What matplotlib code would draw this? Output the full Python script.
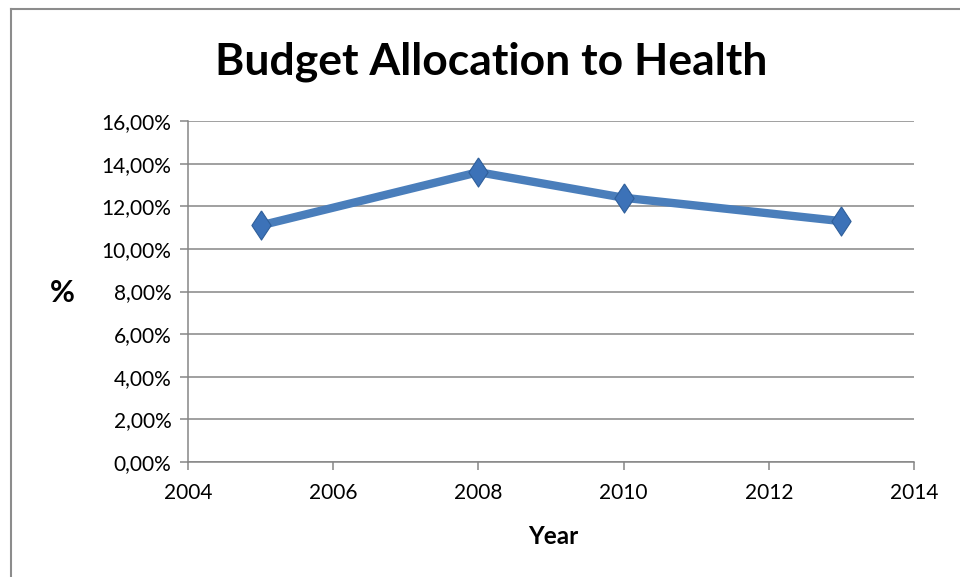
import numpy as np
import matplotlib
matplotlib.use('Agg')
import matplotlib.pyplot as plt
from matplotlib.lines import Line2D
from matplotlib.ticker import FuncFormatter

plt.rcParams['font.family'] = ['Lato', 'DejaVu Sans']

# ==================== data ====================
years = [2005, 2008, 2010, 2013]
budget_pct = [11.1, 13.6, 12.4, 11.3]
title = 'Budget Allocation to Health'
x_label = 'Year'
y_label = '%'

# ==================== plot ====================
fig = plt.figure(figsize=(9.6, 5.77), dpi=100)
ax = fig.add_axes([188 / 960, 1 - 462 / 577, (914 - 188) / 960, (462 - 121) / 577])

# tall diamond marker like Excel
diamond = [(0, 1), (0.66, 0), (0, -1), (-0.66, 0), (0, 1)]
ax.plot(years, budget_pct, color='#4A7EBB', linewidth=6, solid_capstyle='round',
        marker=diamond, markersize=21, markerfacecolor='#3C72B8',
        markeredgecolor='#2F5F9A', markeredgewidth=0.8, zorder=3)

ax.set_xlim(2004, 2014)
ax.set_ylim(0, 16)
ax.set_xticks(np.arange(2004, 2015, 2))
ax.set_yticks(np.arange(0, 17, 2))
ax.yaxis.set_major_formatter(FuncFormatter(lambda v, p: f'{v:.2f}%'.replace('.', ',')))

ax.grid(axis='y', color='#868686', linewidth=1.1)
ax.set_axisbelow(True)
for s in ['top', 'right']:
    ax.spines[s].set_visible(False)
for s in ['left', 'bottom']:
    ax.spines[s].set_color('#868686')
    ax.spines[s].set_linewidth(1.1)
ax.tick_params(axis='both', color='#868686', length=6, width=1.1, labelsize=15)
ax.tick_params(axis='x', pad=9)
ax.tick_params(axis='y', pad=6)

fig.text(491 / 960, 1 - 62 / 577, title, ha='center', va='center', fontsize=32, fontweight='bold')
fig.text(62 / 960, 1 - 293 / 577, y_label, ha='center', va='center', fontsize=22, fontweight='bold')
fig.text(553 / 960, 1 - 536 / 577, x_label, ha='center', va='center', fontsize=17.5, fontweight='bold')

# outer chart border (cut off at right and bottom)
fig.add_artist(Line2D([11 / 960, 11 / 960], [0, 1 - 9 / 577], transform=fig.transFigure,
                      color='#8C8C8C', linewidth=1.5))
fig.add_artist(Line2D([11 / 960, 1], [1 - 9 / 577, 1 - 9 / 577], transform=fig.transFigure,
                      color='#8C8C8C', linewidth=1.5))

plt.savefig('out.png', dpi=100)
